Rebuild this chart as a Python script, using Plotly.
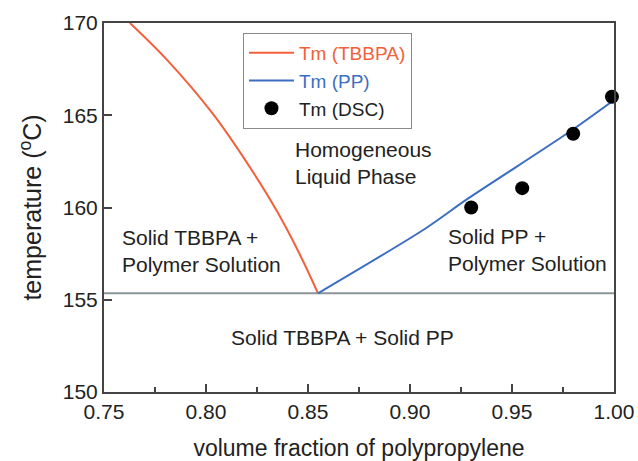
import plotly.graph_objects as go

# Data
tbbpa_x = [0.7627, 0.7809, 0.8034, 0.8224, 0.8353, 0.8466, 0.8549]
tbbpa_y = [170.0, 168.0, 165.07, 162.03, 159.70, 157.32, 155.35]

pp_x = [0.8549, 0.9074, 0.9280, 0.9775, 1.0]
pp_y = [155.35, 158.85, 160.45, 164.05, 165.83]

dsc_x = [0.930, 0.955, 0.980, 0.999]
dsc_y = [160.0, 161.05, 164.0, 166.0]

eutectic_x = [0.75, 1.0]
eutectic_y = [155.35, 155.35]

RED = "#f2603c"
BLUE = "#3c6fc2"
GRAY = "#8a9499"
FONT = "Liberation Sans, Arial, sans-serif"

fig = go.Figure()
fig.add_trace(go.Scatter(x=eutectic_x, y=eutectic_y, mode="lines",
                         line=dict(color=GRAY, width=2), showlegend=False))
fig.add_trace(go.Scatter(x=tbbpa_x, y=tbbpa_y, mode="lines",
                         line=dict(color=RED, width=2, shape="spline", smoothing=1.0),
                         name=f'<span style="color:{RED}">Tm (TBBPA)</span>'))
fig.add_trace(go.Scatter(x=pp_x, y=pp_y, mode="lines",
                         line=dict(color=BLUE, width=2, shape="spline", smoothing=0.8),
                         name=f'<span style="color:{BLUE}">Tm (PP)</span>'))
fig.add_trace(go.Scatter(x=dsc_x, y=dsc_y, mode="markers",
                         marker=dict(color="black", size=14),
                         name="Tm (DSC)", cliponaxis=False))

annots = [
    (0.8427, 162.41, "Homogeneous<br>Liquid Phase", "left"),
    (0.7578, 157.64, "Solid TBBPA +<br>Polymer Solution", "left"),
    (0.9176, 157.67, "Solid PP +<br>Polymer Solution", "left"),
    (0.8667, 152.98, "Solid TBBPA + Solid PP", "center"),
]
for x, y, t, al in annots:
    fig.add_annotation(x=x, y=y, text=t, showarrow=False, xanchor=al, yanchor="middle",
                       align="left", font=dict(size=21, color="#222", family=FONT))

fig.update_layout(
    width=638, height=461,
    margin=dict(l=104, r=24, t=23, b=69),
    paper_bgcolor="white", plot_bgcolor="white",
    font=dict(family=FONT, color="#222"),
    legend=dict(x=0.2725, y=0.973, xanchor="left", yanchor="top",
                bordercolor="#8a8a8a", borderwidth=1, bgcolor="white",
                font=dict(size=19, family=FONT), tracegroupgap=0, itemwidth=45),
    xaxis=dict(range=[0.75, 1.0], tickvals=[0.75, 0.80, 0.85, 0.90, 0.95, 1.00],
               ticktext=["0.75", "0.80", "0.85", "0.90", "0.95", "1.00"],
               ticks="inside", ticklen=8, tickwidth=1.5, tickcolor="#444",
               minor=dict(dtick=0.025, tick0=0.75, ticks="inside", ticklen=5, tickcolor="#444", tickwidth=1.5),
               showline=True, linecolor="#444", linewidth=2, mirror=True,
               showgrid=False, zeroline=False, automargin=False,
               tickfont=dict(size=21), title=dict(text="volume fraction of polypropylene",
                                                   font=dict(size=23), standoff=18)),
    yaxis=dict(range=[150, 170], tickvals=[150, 155, 160, 165, 170],
               ticks="inside", ticklen=8, tickwidth=1.5, tickcolor="#444",
               showline=True, linecolor="#444", linewidth=2, mirror=True,
               showgrid=False, zeroline=False, automargin=False,
               tickfont=dict(size=21), title=dict(text="temperature (<sup>o</sup>C)",
                                                   font=dict(size=25), standoff=14)),
)

fig.write_html("out.html")
